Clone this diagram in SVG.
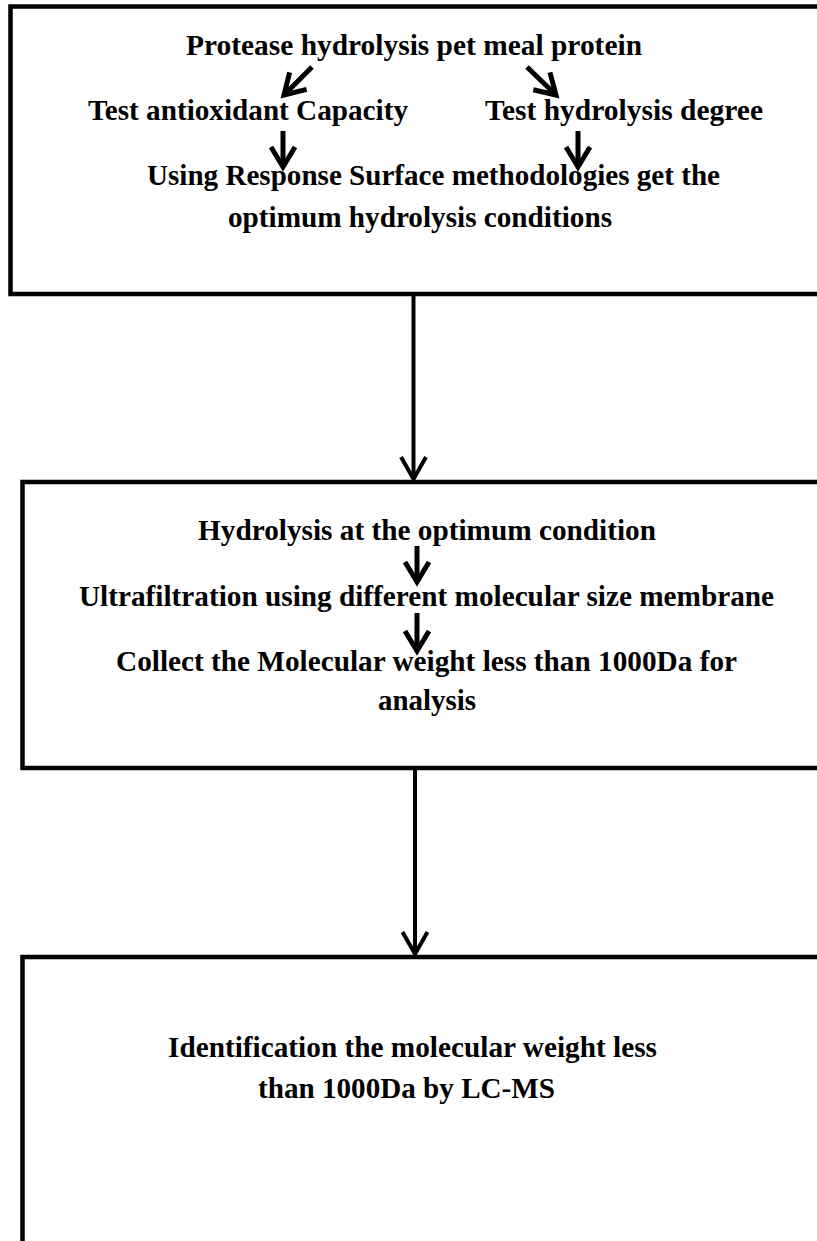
<svg xmlns="http://www.w3.org/2000/svg" width="817" height="1241" viewBox="0 0 817 1241">
<style>
.box{fill:none;stroke:#000;stroke-width:4.5;stroke-linejoin:miter}
.t{font-family:"Liberation Serif","Times New Roman",serif;font-weight:bold;font-size:29.3px;fill:#000;text-anchor:middle}
.sa{fill:none;stroke:#000;stroke-width:5}
.ca{fill:none;stroke:#000;stroke-width:4}
</style>
<defs>
<marker id="ahs" markerUnits="userSpaceOnUse" orient="auto" markerWidth="40" markerHeight="40" refX="0" refY="0" viewBox="-30 -20 40 40" overflow="visible">
<path d="M-20,-12 L0,0 L-20,12" fill="none" stroke="#000" stroke-width="5" stroke-linejoin="miter" stroke-miterlimit="10"/>
</marker>
<marker id="ahc" markerUnits="userSpaceOnUse" orient="auto" markerWidth="40" markerHeight="40" refX="0" refY="0" viewBox="-30 -20 40 40" overflow="visible">
<path d="M-22,-12.5 L0,0 L-22,12.5" fill="none" stroke="#000" stroke-width="4" stroke-linejoin="miter" stroke-miterlimit="10"/>
</marker>
</defs>
<rect width="817" height="1241" fill="#fff"/>
<g id="node1">
<path class="box" d="M830,6.5 H10.5 V294 H830"/>
<text class="t" x="414" y="55" textLength="456" lengthAdjust="spacingAndGlyphs">Protease hydrolysis pet meal protein</text>
<text class="t" x="248" y="120" textLength="320" lengthAdjust="spacingAndGlyphs">Test antioxidant Capacity</text>
<text class="t" x="624" y="120" textLength="278" lengthAdjust="spacingAndGlyphs">Test hydrolysis degree</text>
<text class="t" x="433.5" y="185" textLength="573" lengthAdjust="spacingAndGlyphs">Using Response Surface methodologies get the</text>
<text class="t" x="420" y="227" textLength="384" lengthAdjust="spacingAndGlyphs">optimum hydrolysis conditions</text>
<path class="sa" d="M312,67 L284,95" marker-end="url(#ahs)"/>
<path class="sa" d="M527,67 L556,95" marker-end="url(#ahs)"/>
<path class="sa" d="M283,131 V167" marker-end="url(#ahs)"/>
<path class="sa" d="M578,131 V167" marker-end="url(#ahs)"/>
</g>
<g id="node2">
<path class="box" d="M830,482 H22.5 V768 H830"/>
<text class="t" x="427" y="540" textLength="458" lengthAdjust="spacingAndGlyphs">Hydrolysis at the optimum condition</text>
<text class="t" x="426.5" y="606" textLength="695" lengthAdjust="spacingAndGlyphs">Ultrafiltration using different molecular size membrane</text>
<text class="t" x="426.5" y="671" textLength="621" lengthAdjust="spacingAndGlyphs">Collect the Molecular weight less than 1000Da for</text>
<text class="t" x="427" y="710" textLength="98" lengthAdjust="spacingAndGlyphs">analysis</text>
<path class="sa" d="M417,546 V582" marker-end="url(#ahs)"/>
<path class="sa" d="M417,613 V651" marker-end="url(#ahs)"/>
</g>
<g id="node3">
<path class="box" d="M830,957 H22.5 V1250"/>
<text class="t" x="412.5" y="1057" textLength="489" lengthAdjust="spacingAndGlyphs">Identification the molecular weight less</text>
<text class="t" x="406.5" y="1098" textLength="297" lengthAdjust="spacingAndGlyphs">than 1000Da by LC-MS</text>
</g>
<g id="connectors">
<path class="ca" d="M413.5,296 V479" marker-end="url(#ahc)"/>
<path class="ca" d="M415,770 V954" marker-end="url(#ahc)"/>
</g>
</svg>
